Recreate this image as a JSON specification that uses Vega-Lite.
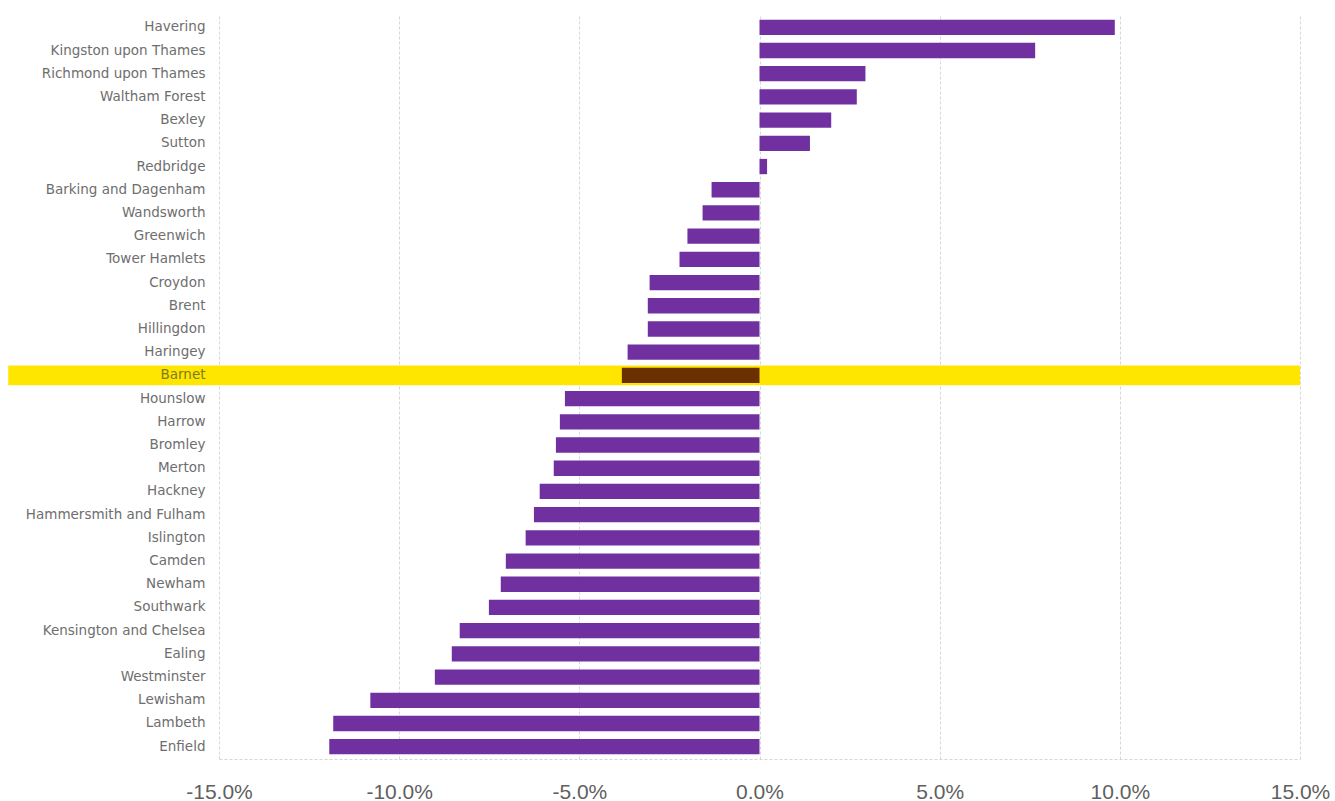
{
  "$schema": "https://vega.github.io/schema/vega-lite/v6.json",
  "width": 1081,
  "height": 744,
  "autosize": {"type": "none"},
  "padding": {"left": 219, "top": 15, "right": 35, "bottom": 42},
  "background": "#ffffff",
  "config": {"view": {"stroke": null}},
  "data": {"values": [
    {"borough": "Havering", "change": 0.0986, "group": "other"},
    {"borough": "Kingston upon Thames", "change": 0.0765, "group": "other"},
    {"borough": "Richmond upon Thames", "change": 0.0294, "group": "other"},
    {"borough": "Waltham Forest", "change": 0.0270, "group": "other"},
    {"borough": "Bexley", "change": 0.0199, "group": "other"},
    {"borough": "Sutton", "change": 0.0140, "group": "other"},
    {"borough": "Redbridge", "change": 0.0021, "group": "other"},
    {"borough": "Barking and Dagenham", "change": -0.0133, "group": "other"},
    {"borough": "Wandsworth", "change": -0.0158, "group": "other"},
    {"borough": "Greenwich", "change": -0.0200, "group": "other"},
    {"borough": "Tower Hamlets", "change": -0.0222, "group": "other"},
    {"borough": "Croydon", "change": -0.0305, "group": "other"},
    {"borough": "Brent", "change": -0.0310, "group": "other"},
    {"borough": "Hillingdon", "change": -0.0310, "group": "other"},
    {"borough": "Haringey", "change": -0.0366, "group": "other"},
    {"borough": "Barnet", "change": -0.0382, "group": "Barnet"},
    {"borough": "Hounslow", "change": -0.0540, "group": "other"},
    {"borough": "Harrow", "change": -0.0554, "group": "other"},
    {"borough": "Bromley", "change": -0.0565, "group": "other"},
    {"borough": "Merton", "change": -0.0571, "group": "other"},
    {"borough": "Hackney", "change": -0.0610, "group": "other"},
    {"borough": "Hammersmith and Fulham", "change": -0.0626, "group": "other"},
    {"borough": "Islington", "change": -0.0649, "group": "other"},
    {"borough": "Camden", "change": -0.0704, "group": "other"},
    {"borough": "Newham", "change": -0.0718, "group": "other"},
    {"borough": "Southwark", "change": -0.0751, "group": "other"},
    {"borough": "Kensington and Chelsea", "change": -0.0832, "group": "other"},
    {"borough": "Ealing", "change": -0.0854, "group": "other"},
    {"borough": "Westminster", "change": -0.0901, "group": "other"},
    {"borough": "Lewisham", "change": -0.1080, "group": "other"},
    {"borough": "Lambeth", "change": -0.1183, "group": "other"},
    {"borough": "Enfield", "change": -0.1194, "group": "other"}
  ]},
  "encoding": {
    "y": {
      "field": "borough", "type": "nominal", "sort": null,
      "scale": {"paddingInner": 0.34, "paddingOuter": 0.2},
      "axis": {
        "title": null, "domain": false, "ticks": false, "grid": false,
        "labelFont": "DejaVu Sans", "labelFontSize": 13.5,
        "labelColor": {"condition": {"test": "datum.value === 'Barnet'", "value": "#7d7a1e"}, "value": "#6e6e6e"},
        "labelPadding": 14, "zindex": 1
      }
    }
  },
  "layer": [
    {
      "mark": {"type": "bar", "color": "#FFE600", "height": {"band": 1.3}},
      "encoding": {
        "x": {"datum": -0.2085, "type": "quantitative"},
        "x2": {"datum": 0.15},
        "opacity": {"condition": {"test": "datum.group === 'Barnet'", "value": 1}, "value": 0}
      }
    },
    {
      "mark": {"type": "bar"},
      "encoding": {
        "x": {
          "field": "change", "type": "quantitative",
          "scale": {"domain": [-0.15, 0.15], "nice": false, "zero": false},
          "axis": {
            "title": null, "format": ".1%", "values": [-0.15, -0.1, -0.05, 0, 0.05, 0.1, 0.15],
            "labelExpr": "replace(datum.label, '\u2212', '-')",
            "grid": true, "gridColor": "#d6d6d6", "gridDash": [3, 2], "gridWidth": 1,
            "domainColor": "#d6d6d6", "domainDash": [3, 2], "ticks": false,
            "labelFont": "Liberation Sans", "labelFontSize": 21, "labelColor": "#5f5f5f",
            "labelPadding": 22, "labelFlush": false, "labelOverlap": false, "zindex": 0
          }
        },
        "color": {
          "field": "group", "type": "nominal",
          "scale": {"domain": ["other", "Barnet"], "range": ["#7030A0", "#6B3000"]},
          "legend": null
        }
      }
    }
  ]
}
